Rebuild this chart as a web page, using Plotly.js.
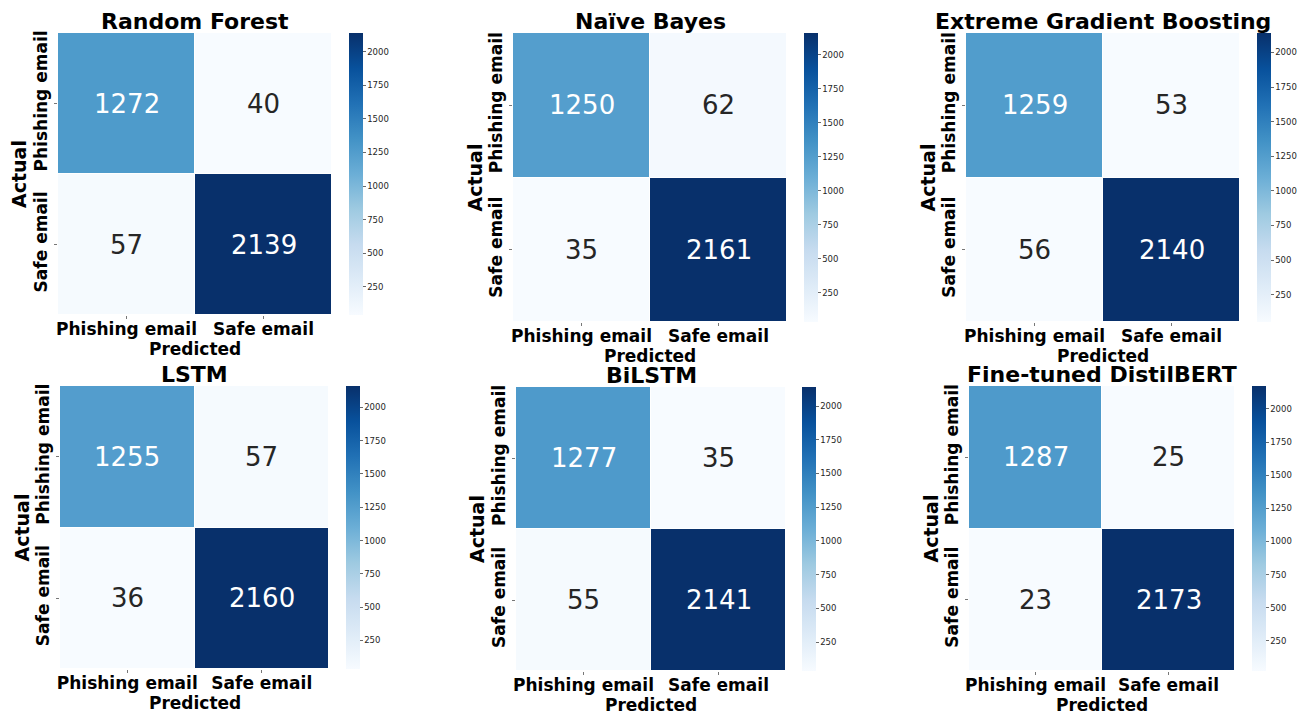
<!DOCTYPE html>
<html>
<head>
<meta charset="utf-8">
<script src="https://cdn.plot.ly/plotly-3.0.1.min.js"></script>
<style>
  html, body { margin: 0; padding: 0; background: #fff; }
  #chart { width: 1309px; height: 714px; }
</style>
</head>
<body>
<div id="chart"></div>
<script>
// Confusion matrices: rows = actual class, columns = predicted class
const classLabels = ['Phishing email', 'Safe email'];
const modelNames = ['Random Forest', 'Naïve Bayes', 'Extreme Gradient Boosting',
                    'LSTM', 'BiLSTM', 'Fine-tuned DistilBERT'];
const randomForest = [[1272, 40], [57, 2139]];
const naiveBayes   = [[1250, 62], [35, 2161]];
const xgBoost      = [[1259, 53], [56, 2140]];
const lstm         = [[1255, 57], [36, 2160]];
const biLstm       = [[1277, 35], [55, 2141]];
const distilBert   = [[1287, 25], [23, 2173]];
const colorbarTicks = [250, 500, 750, 1000, 1250, 1500, 1750, 2000];

const matrices = [randomForest, naiveBayes, xgBoost, lstm, biLstm, distilBert];

// Panel placement in pixels: heatmap box [left, right, top, bottom] and colorbar left edge
const W = 1309, H = 714;
const panels = [
  { box: [58, 332, 33, 315],  cb: 349 },
  { box: [513, 787, 33, 322], cb: 804 },
  { box: [966, 1240, 33, 322], cb: 1257 },
  { box: [60, 329, 386, 669], cb: 346 },
  { box: [516, 786, 387, 671], cb: 802 },
  { box: [969, 1235, 386, 671], cb: 1252 }
];

// Sequential blue colour scale
const blues = [
  [0.000, '#f7fbff'], [0.125, '#deebf7'], [0.250, '#c6dbef'],
  [0.375, '#9ecae1'], [0.500, '#6baed6'], [0.625, '#4292c6'],
  [0.750, '#2171b5'], [0.875, '#08519c'], [1.000, '#08306b']
];

const FONT = 'DejaVu Sans, Liberation Sans, sans-serif';
const px = x => x / W;
const py = y => 1 - y / H;

const data = [];
const annotations = [];
const layout = {
  width: W, height: H,
  margin: { l: 0, r: 0, t: 0, b: 0 },
  paper_bgcolor: '#ffffff',
  plot_bgcolor: '#ffffff',
  font: { family: FONT, color: '#000000' },
  showlegend: false,
  annotations: annotations
};

matrices.forEach((z, i) => {
  const p = panels[i];
  const [l, r, t, b] = p.box;
  const suffix = i === 0 ? '' : String(i + 1);
  const flat = z.flat();
  const zmin = Math.min(...flat), zmax = Math.max(...flat);

  data.push({
    type: 'heatmap',
    z: z,
    x: classLabels,
    y: classLabels,
    xaxis: 'x' + suffix,
    yaxis: 'y' + suffix,
    zmin: zmin, zmax: zmax,
    colorscale: blues,
    xgap: 1, ygap: 1,
    hoverinfo: 'skip',
    colorbar: {
      x: px(p.cb), xanchor: 'left', xpad: 0,
      y: py(t), yanchor: 'top', ypad: 0,
      len: b - t, lenmode: 'pixels',
      thickness: 14, thicknessmode: 'pixels',
      outlinewidth: 0,
      tickmode: 'array', tickvals: colorbarTicks.filter(v => v >= zmin && v <= zmax),
      ticks: 'outside', ticklen: 3, tickwidth: 0.8, tickcolor: '#444',
      tickfont: { family: FONT, size: 8.5, color: '#262626' }
    }
  });

  layout['xaxis' + suffix] = {
    domain: [px(l), px(r)],
    anchor: 'y' + suffix,
    type: 'category',
    showgrid: false, zeroline: false, showline: false,
    ticks: 'outside', ticklen: 3, tickwidth: 0.8, tickcolor: '#555',
    ticklabelstandoff: -4,
    tickfont: { family: FONT, size: 17, weight: 700, color: '#000' },
    fixedrange: true
  };
  layout['yaxis' + suffix] = {
    domain: [py(b), py(t)],
    anchor: 'x' + suffix,
    type: 'category',
    autorange: 'reversed',
    showgrid: false, zeroline: false, showline: false,
    ticks: 'outside', ticklen: 3, tickwidth: 0.8, tickcolor: '#555',
    tickangle: -90,
    tickfont: { family: FONT, size: 17, weight: 700, color: '#000' },
    fixedrange: true
  };

  // cell values
  z.forEach((row, ri) => {
    row.forEach((v, ci) => {
      const frac = (v - zmin) / (zmax - zmin);
      annotations.push({
        xref: 'x' + suffix, yref: 'y' + suffix,
        x: classLabels[ci], y: classLabels[ri],
        text: String(v), showarrow: false,
        font: { family: FONT, size: 26, color: frac > 0.45 ? '#ffffff' : '#262626' }
      });
    });
  });

  // panel title
  annotations.push({
    xref: 'paper', yref: 'paper',
    x: px((l + r) / 2), y: py(t - 11.5), xanchor: 'center', yanchor: 'middle',
    text: modelNames[i], showarrow: false,
    font: { family: FONT, size: 22, weight: 700, color: '#000' }
  });
  // axis titles
  annotations.push({
    xref: 'paper', yref: 'paper',
    x: px((l + r) / 2), y: py(b + 34), xanchor: 'center', yanchor: 'middle',
    text: 'Predicted', showarrow: false,
    font: { family: FONT, size: 17, weight: 700, color: '#000' }
  });
  annotations.push({
    xref: 'paper', yref: 'paper',
    x: px(l - 39), y: py((t + b) / 2), xanchor: 'center', yanchor: 'middle',
    text: 'Actual', textangle: -90, showarrow: false,
    font: { family: FONT, size: 19, weight: 700, color: '#000' }
  });
});

Plotly.newPlot('chart', data, layout, { displayModeBar: false, staticPlot: true });
</script>
</body>
</html>
